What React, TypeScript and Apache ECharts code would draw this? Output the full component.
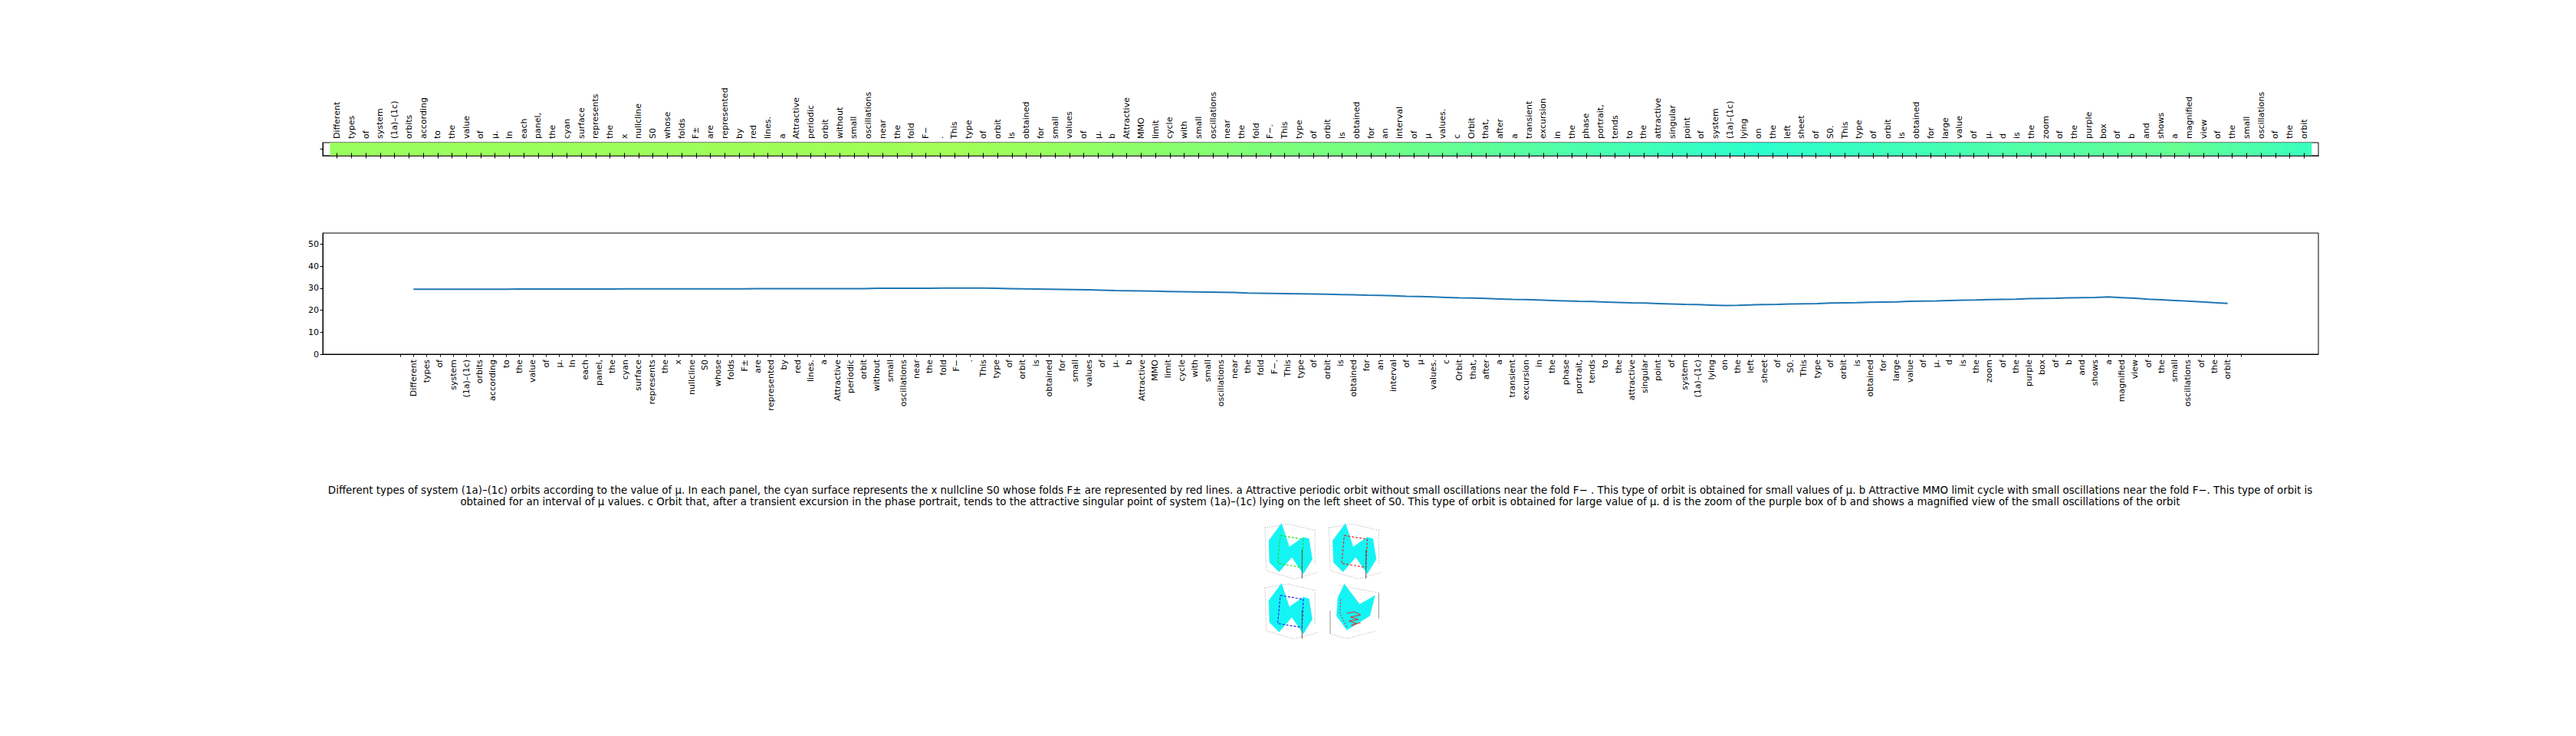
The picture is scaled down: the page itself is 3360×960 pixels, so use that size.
import React, { useEffect, useRef } from "react";
import * as echarts from "echarts";

// ---------- DATA ----------
const CAPTION_LINE_1 =
  "Different types of system (1a)–(1c) orbits according to the value of μ. In each panel, the cyan surface represents the x nullcline S0 whose folds F± are represented by red lines. a Attractive periodic orbit without small oscillations near the fold F− . This type of orbit is obtained for small values of μ. b Attractive MMO limit cycle with small oscillations near the fold F−. This type of orbit is";
const CAPTION_LINE_2 =
  "obtained for an interval of μ values. c Orbit that, after a transient excursion in the phase portrait, tends to the attractive singular point of system (1a)–(1c) lying on the left sheet of S0. This type of orbit is obtained for large value of μ. d is the zoom of the purple box of b and shows a magnified view of the small oscillations of the orbit";

// tick labels (one per word of the caption)
const WORDS: string[] = (CAPTION_LINE_1 + " " + CAPTION_LINE_2).split(" ");

// values per word
const LINE_VALUES: number[] = [
  29.5, 29.5, 29.5, 29.5, 29.5, 29.5, 29.5, 29.5, 29.6, 29.6,
  29.6, 29.6, 29.6, 29.6, 29.6, 29.6, 29.7, 29.7, 29.7, 29.7,
  29.7, 29.7, 29.7, 29.7, 29.7, 29.7, 29.8, 29.8, 29.8, 29.8,
  29.8, 29.8, 29.8, 29.8, 29.8, 29.9, 29.9, 29.9, 29.9, 29.9,
  30.0, 30.0, 30.0, 30.0, 29.9, 29.8, 29.7, 29.6, 29.5, 29.4,
  29.3, 29.2, 29.1, 28.9, 28.8, 28.7, 28.6, 28.5, 28.4, 28.3,
  28.2, 28.1, 28.0, 27.8, 27.7, 27.6, 27.5, 27.4, 27.3, 27.2,
  27.1, 27.0, 26.8, 26.7, 26.5, 26.3, 26.2, 26.0, 25.8, 25.6,
  25.5, 25.3, 25.1, 24.9, 24.8, 24.6, 24.4, 24.2, 24.0, 23.9,
  23.7, 23.5, 23.3, 23.2, 23.0, 22.8, 22.6, 22.5, 22.3, 22.1,
  22.2, 22.4, 22.5, 22.6, 22.8, 22.9, 23.0, 23.2, 23.3, 23.4,
  23.6, 23.7, 23.8, 24.0, 24.1, 24.2, 24.4, 24.5, 24.6, 24.8,
  24.9, 25.0, 25.2, 25.3, 25.4, 25.6, 25.7, 25.8, 26.0, 25.7,
  25.4, 25.0, 24.7, 24.4, 24.1, 23.8, 23.4, 23.1,
];

const Y_TICKS: number[] = [0, 10, 20, 30, 40, 50];
const Y_MAX = 55;

// ---------- helpers ----------
const JET = {
  r: [[0, 0], [0.35, 0], [0.66, 1], [0.89, 1], [1, 0.5]],
  g: [[0, 0], [0.125, 0], [0.375, 1], [0.64, 1], [0.91, 0], [1, 0]],
  b: [[0, 0.5], [0.11, 1], [0.34, 1], [0.65, 0], [1, 0]],
};
function seg(pts: number[][], x: number) {
  for (let i = 1; i < pts.length; i++) {
    if (x <= pts[i][0]) {
      const [x0, y0] = pts[i - 1];
      const [x1, y1] = pts[i];
      return y0 + ((x - x0) / (x1 - x0)) * (y1 - y0);
    }
  }
  return pts[pts.length - 1][1];
}
function jet(t: number) {
  const x = Math.max(0, Math.min(1, t));
  const c = (v: number) => Math.round(v * 255);
  return `rgb(${c(seg(JET.r, x))},${c(seg(JET.g, x))},${c(seg(JET.b, x))})`;
}

const FONT = "DejaVu Sans";

function panelElements(ox: number, oy: number, kind: string, loopColor: string) {
  const P = (pts: number[][]) => pts.map(([x, y]) => [ox + x, oy + y]);
  const els: any[] = [];
  const grey = { stroke: "#8a8a8a", lineWidth: 0.8, lineDash: [1, 2], fill: null };
  if (kind === "saddle") {
    els.push({ type: "polyline", shape: { points: P([[6.7, 6.7], [36.7, 1.7], [71.7, 10]]) }, style: grey });
    els.push({ type: "polyline", shape: { points: P([[71.7, 10], [71.7, 55]]) }, style: grey });
    els.push({ type: "polyline", shape: { points: P([[10, 63.3], [45, 73.3], [75, 65]]) }, style: grey });
    els.push({ type: "polyline", shape: { points: P([[6.7, 6.7], [8.3, 63.3]]) }, style: grey });
    els.push({
      type: "polygon",
      shape: { points: P([[28.3, 1], [38.3, 31.7], [56.7, 19], [64, 21], [68.3, 47.7], [56.7, 66.7], [41.7, 45], [25, 64.3], [12.7, 51.7], [11.7, 23.3]]) },
      style: { fill: "#14f4f4", stroke: "#2ee", lineWidth: 0.5 },
    });
    els.push({
      type: "polygon",
      shape: { points: P([[26.7, 16.7], [56.7, 21.7], [55, 58.3], [23.3, 53.3]]) },
      style: { fill: null, stroke: loopColor, lineWidth: 1.2, lineDash: [3, 2] },
    });
    els.push({ type: "polyline", shape: { points: P([[55, 35], [55, 73]]) }, style: { stroke: "#555", lineWidth: 1, fill: null } });
  } else {
    els.push({ type: "polyline", shape: { points: P([[8.3, 36.7], [8.3, 66.7]]) }, style: { stroke: "#777", lineWidth: 0.8, fill: null } });
    els.push({ type: "polyline", shape: { points: P([[71.7, 13.3], [71.7, 46.7]]) }, style: { stroke: "#777", lineWidth: 0.8, fill: null } });
    els.push({ type: "polyline", shape: { points: P([[8.3, 66.7], [30, 73], [66.7, 63.3]]) }, style: grey });
    els.push({ type: "polyline", shape: { points: P([[20, 3.3], [71.7, 13.3]]) }, style: grey });
    els.push({
      type: "polygon",
      shape: { points: P([[18.3, 20], [26.7, 1.7], [46.7, 28.3], [66.7, 16.7], [60, 43.3], [30, 61.7], [16.7, 43.3]]) },
      style: { fill: "#14f4f4", stroke: "#2ee", lineWidth: 0.5 },
    });
    els.push({
      type: "polyline",
      shape: { points: P([[30, 40], [40, 38], [48, 42], [35, 45], [45, 48], [33, 50], [42, 53], [36, 56], [48, 52]]) },
      style: { stroke: loopColor, lineWidth: 1, fill: null },
    });
    els.push({
      type: "polyline",
      shape: { points: P([[22, 22], [21, 40], [30, 58]]) },
      style: { stroke: loopColor, lineWidth: 1, lineDash: [2, 2], fill: null },
    });
  }
  return els;
}

export default function App() {
  const ref = useRef<HTMLDivElement>(null);

  useEffect(() => {
    if (!ref.current) return;
    const chart = echarts.init(ref.current, undefined, { renderer: "svg" });

    const stripTicks = WORDS.map((_, i) => i);
    const lineTicks = Array.from({ length: WORDS.length + 2 }, (_, i) => i);
    const lineLabelTicks = WORDS.map((_, i) => i + 1);

    const axisText = { fontSize: 11, fontFamily: FONT, color: "#000" };
    const blackLine = { show: true, lineStyle: { color: "#000", width: 1 } };
    const blackLineOff = { show: true, onZero: false, lineStyle: { color: "#000", width: 1 } };
    const captionStyle = {
      font: `13.4px "${FONT}"`, fill: "#000",
      textAlign: "center", textVerticalAlign: "middle", align: "center", verticalAlign: "middle",
    };

    const option: any = {
      animation: false,
      backgroundColor: "#fff",
      grid: [
        { left: 421, top: 186, width: 2603, height: 17, show: true, borderColor: "#000", borderWidth: 1, backgroundColor: "transparent" },
        { left: 421, top: 304, width: 2603, height: 158, show: true, borderColor: "#000", borderWidth: 1, backgroundColor: "transparent" },
      ],
      xAxis: [
        {
          gridIndex: 0, type: "value", position: "top", min: -1, max: 138, z: 5,
          axisLine: blackLine,
          axisTick: { show: true, customValues: stripTicks, length: 3.5, lineStyle: { color: "#000", width: 1 } },
          axisLabel: {
            show: true, customValues: stripTicks, rotate: 90, margin: 5, ...axisText,
            formatter: (v: number) => WORDS[Math.round(v)] ?? "",
          },
          splitLine: { show: false },
        },
        {
          gridIndex: 0, type: "value", position: "bottom", min: -1, max: 138, z: 5,
          axisLine: blackLine,
          axisTick: { show: true, customValues: stripTicks, length: 3.5, lineStyle: { color: "#000", width: 1 } },
          axisLabel: { show: false },
          splitLine: { show: false },
        },
        {
          gridIndex: 1, type: "value", position: "bottom", min: -5.85, max: 144.85,
          axisLine: blackLine,
          axisTick: { show: true, customValues: lineTicks, length: 3.5, lineStyle: { color: "#000", width: 1 } },
          axisLabel: {
            show: true, customValues: lineLabelTicks, rotate: 90, margin: 7, ...axisText,
            formatter: (v: number) => WORDS[Math.round(v) - 1] ?? "",
          },
          splitLine: { show: false },
        },
      ],
      yAxis: [
        {
          gridIndex: 0, type: "value", min: 0, max: 1, z: 5,
          axisLine: blackLineOff,
          axisTick: { show: true, customValues: [0.5], length: 3.5, lineStyle: { color: "#000", width: 1 } },
          axisLabel: { show: false },
          splitLine: { show: false },
        },
        {
          gridIndex: 1, type: "value", min: 0, max: Y_MAX,
          axisLine: blackLineOff,
          axisTick: { show: true, customValues: Y_TICKS, length: 3.5, lineStyle: { color: "#000", width: 1 } },
          axisLabel: { show: true, customValues: Y_TICKS, margin: 5, ...axisText },
          splitLine: { show: false },
        },
      ],
      series: [
        {
          type: "custom",
          xAxisIndex: 0,
          yAxisIndex: 0,
          data: LINE_VALUES.map((v, i) => [i, v]),
          renderItem: (params: any, api: any) => {
            const i = api.value(0);
            const v = api.value(1);
            const p0 = api.coord([i - 0.5, 1]);
            const p1 = api.coord([i + 0.5, 0]);
            return {
              type: "rect",
              shape: { x: p0[0], y: p0[1], width: p1[0] - p0[0] + 0.6, height: p1[1] - p0[1] },
              style: { fill: jet(v / Y_MAX) },
            };
          },
        },
        {
          type: "line",
          xAxisIndex: 2,
          yAxisIndex: 1,
          data: LINE_VALUES.map((v, i) => [i + 1, v]),
          showSymbol: false,
          symbol: "none",
          lineStyle: { color: "#1f77b4", width: 2 },
          itemStyle: { color: "#1f77b4" },
        },
      ],
      graphic: [
        { type: "text", x: 1722, y: 639, style: { text: CAPTION_LINE_1, ...captionStyle } },
        { type: "text", x: 1722, y: 654, style: { text: CAPTION_LINE_2, ...captionStyle } },
        ...panelElements(1643.3, 681.7, "saddle", "#22dd22"),
        ...panelElements(1726.7, 681.7, "saddle", "#ee2222"),
        ...panelElements(1643.3, 760, "saddle", "#2222ee"),
        ...panelElements(1726.7, 760, "bowl", "#ee2222"),
      ],
    };

    chart.setOption(option);
    return () => chart.dispose();
  }, []);

  return (
    <div
      ref={ref}
      style={{ position: "fixed", left: 0, top: 0, width: 3360, height: 960, background: "#fff" }}
    />
  );
}
